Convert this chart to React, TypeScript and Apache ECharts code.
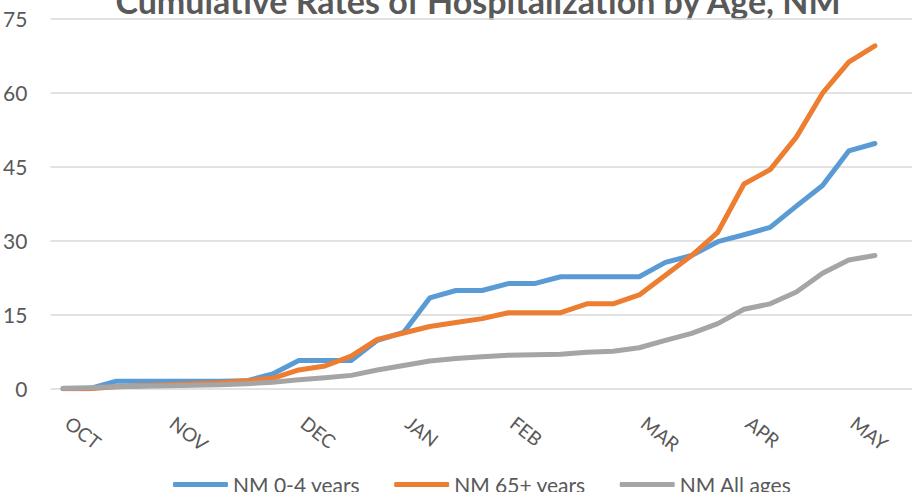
import React, { useEffect, useRef } from "react";
import * as echarts from "echarts";

const categories: string[] = [
  "OCT", "", "", "", "NOV", "", "", "", "", "DEC", "", "", "", "JAN", "", "", "",
  "FEB", "", "", "", "", "MAR", "", "", "", "APR", "", "", "", "MAY", "",
];

const yTicks = [0, 15, 30, 45, 60, 75];

const ages0to4: number[] = [
  0, 0, 1.5, 1.5, 1.5, 1.5, 1.5, 1.6, 3.0, 5.7, 5.7, 5.7, 9.8, 11.4, 18.4, 19.9,
  19.9, 21.3, 21.3, 22.7, 22.7, 22.7, 22.7, 25.6, 27.0, 29.8, 31.2, 32.7, 37.0,
  41.2, 48.2, 49.7,
];

const ages65plus: number[] = [
  0, 0, 0.4, 0.6, 0.8, 1.0, 1.2, 1.6, 2.1, 3.8, 4.6, 6.6, 10.0, 11.3, 12.6, 13.4,
  14.2, 15.4, 15.4, 15.4, 17.2, 17.2, 19.0, 23.0, 27.0, 31.7, 41.5, 44.4, 51.0,
  59.9, 66.2, 69.5,
];

const allAges: number[] = [
  0.1, 0.2, 0.4, 0.5, 0.6, 0.7, 0.8, 1.0, 1.3, 1.8, 2.2, 2.7, 3.8, 4.7, 5.6, 6.1,
  6.5, 6.8, 6.9, 7.0, 7.4, 7.6, 8.3, 9.8, 11.2, 13.2, 16.1, 17.2, 19.6, 23.4,
  26.1, 27.0,
];

const seriesNames = ["NM 0-4 years", "NM 65+ years", "NM All ages"];
const colors = ["#5B9BD5", "#ED7D31", "#A5A5A5"];
const titleText = "Cumulative Rates of Hospitalization by Age, NM";

const FONT = "Lato, 'Open Sans', sans-serif";
const TEXT_COLOR = "#595959";

export default function App() {
  const ref = useRef<HTMLDivElement>(null);

  useEffect(() => {
    if (!ref.current) return;
    const chart = echarts.init(ref.current, undefined, { renderer: "svg" });
    const top = 18.7;
    const bottom = 492 - 388.7;
    const yMin = yTicks[0];
    const yMax = yTicks[yTicks.length - 1];
    const yInterval = yTicks[1] - yTicks[0];
    const seriesData = [ages0to4, ages65plus, allAges];

    chart.setOption({
      animation: false,
      backgroundColor: "#ffffff",
      textStyle: { fontFamily: FONT },
      graphic: [
        {
          type: "text",
          x: 478,
          y: 17,
          style: {
            text: titleText,
            fill: TEXT_COLOR,
            font: `bold 34px ${FONT}`,
            align: "center",
            verticalAlign: "bottom",
          },
        },
      ],
      grid: [
        { left: 50, right: 0, top, bottom },
        { left: 50, right: 24, top, bottom },
      ],
      legend: {
        data: seriesNames,
        left: 168,
        top: 469,
        icon: "roundRect",
        itemWidth: 55,
        itemHeight: 5,
        itemGap: 34,
        textStyle: { color: TEXT_COLOR, fontSize: 21, fontFamily: FONT },
      },
      xAxis: [
        {
          gridIndex: 0,
          type: "value",
          show: false,
          min: 0,
          max: 1,
        },
        {
          gridIndex: 1,
          type: "category",
          data: categories,
          boundaryGap: true,
          axisLine: { show: false },
          axisTick: { show: false },
          splitLine: { show: false },
          axisLabel: {
            interval: 0,
            rotate: -38,
            margin: 28,
            padding: [0, 0, 0, 6],
            color: TEXT_COLOR,
            fontSize: 19,
            fontFamily: FONT,
          },
        },
      ],
      yAxis: [
        {
          gridIndex: 0,
          type: "value",
          min: yMin,
          max: yMax,
          interval: yInterval,
          axisLine: { show: false },
          axisTick: { show: false },
          axisLabel: {
            color: TEXT_COLOR,
            fontSize: 21,
            fontFamily: FONT,
            margin: 23,
          },
          splitLine: { lineStyle: { color: "#D9D9D9", width: 1.5 } },
        },
        {
          gridIndex: 1,
          type: "value",
          min: yMin,
          max: yMax,
          interval: yInterval,
          show: false,
          splitLine: { show: false },
        },
      ],
      series: seriesNames.map((name, i) => ({
        name,
        type: "line",
        xAxisIndex: 1,
        yAxisIndex: 1,
        data: seriesData[i],
        showSymbol: false,
        symbol: "none",
        color: colors[i],
        lineStyle: { color: colors[i], width: 5, cap: "round", join: "round" },
      })),
    });

    return () => chart.dispose();
  }, []);

  return (
    <div
      ref={ref}
      style={{ position: "fixed", left: 0, top: 0, width: 912, height: 492 }}
    />
  );
}
